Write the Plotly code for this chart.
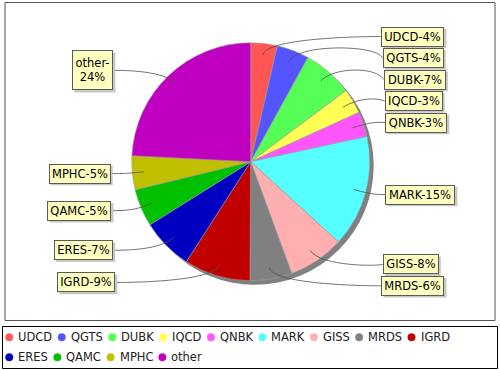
import math
import plotly.graph_objects as go

# ---- data ----
categories = ["UDCD", "QGTS", "DUBK", "IQCD", "QNBK", "MARK", "GISS",
              "MRDS", "IGRD", "ERES", "QAMC", "MPHC", "other"]
values = [3.6, 4.4, 6.8, 3.4, 3.4, 15.2, 7.6, 5.7, 9.0, 7.0, 5.1, 4.6, 24.2]
colors = ["#FF5555", "#5555FF", "#55FF55", "#FFFF55", "#FF55FF", "#55FFFF",
          "#FFAFAF", "#808080", "#C00000", "#0000C0", "#00C000", "#C0C000",
          "#C000C0"]

# ---- layout constants (pixels) ----
W, H = 500, 370
CX, CY, R = 250.7, 161.7, 119.0
SHADOW = 4
RL = 126.0          # link-area radius
LINK = 0.9          # link point depth inside slice
LBL_H, LBL_GAP = 19.5, 2.0
LINE_H = 14.5       # text height of one label line
BPAD, BW = 1.5, 1   # label box padding / border
FONT = "DejaVu Sans"
FS = 11.5


def px(x):
    return x / W


def py(y):
    return 1 - y / H


# DejaVu Sans advance widths (units / 2048) for text layout
ADV = {"A": 1401, "B": 1405, "C": 1430, "D": 1577, "E": 1294, "G": 1589,
       "H": 1540, "I": 604, "K": 1343, "M": 1767, "N": 1532, "P": 1235,
       "Q": 1612, "R": 1423, "S": 1300, "T": 1251, "U": 1499, "o": 1253,
       "t": 803, "h": 1298, "e": 1260, "r": 842, "-": 739, "%": 1946}
for d in "0123456789":
    ADV[d] = 1303


def text_w(s, fs=FS):
    return sum(ADV.get(ch, 1300) for ch in s) / 2048 * fs


total = sum(values)
pcts = [v / total * 100 for v in values]
mids = []
cum = 0.0
for p in pcts:
    mids.append((cum + p / 2) / 100 * 2 * math.pi)
    cum += p

texts = []
for c, p in zip(categories, pcts):
    t = f"{c}-{round(p)}%"
    if len(t) > 8:
        t = t.replace("-", "-<br>", 1)
    texts.append(t)


def distribute(recs):
    recs.sort(key=lambda r: r["y"])
    n = len(recs)

    def overlap():
        for i in range(n - 1):
            a, b = recs[i], recs[i + 1]
            if b["y"] - b["h"] / 2 < a["y"] + a["h"] / 2 + LBL_GAP - 1e-6:
                return True
        return False

    lo, up = 0, n - 1
    while up > lo:
        if lo < up - 1:
            a, b = recs[lo], recs[lo + 1]
            need = a["y"] + a["h"] / 2 + LBL_GAP + b["h"] / 2
            if b["y"] < need:
                b["y"] = need
        a, b = recs[up - 1], recs[up]
        need = b["y"] - b["h"] / 2 - LBL_GAP - a["h"] / 2
        if a["y"] > need:
            a["y"] = need
        lo += 1
        up -= 1
    if overlap():
        for i in range(n - 1):
            a, b = recs[i], recs[i + 1]
            need = a["y"] + a["h"] / 2 + LBL_GAP + b["h"] / 2
            if b["y"] < need:
                b["y"] = need
    return recs


right, left = [], []
for i, th in enumerate(mids):
    nl = texts[i].count("<br>") + 1
    rec = {"i": i, "y": CY - RL * math.cos(th), "h": LBL_H + (nl - 1) * 20,
           "ey": CY - RL * math.cos(th), "nl": nl}
    (right if th < math.pi else left).append(rec)
distribute(right)
distribute(left)

fig = go.Figure()

# shadow pie
fig.add_trace(go.Pie(
    values=[1], labels=["_shadow"], sort=False,
    marker=dict(colors=["#808080"], line=dict(width=0)),
    textinfo="none", hoverinfo="skip", showlegend=False,
    domain=dict(x=[px(CX - R + SHADOW), px(CX + R + SHADOW)],
                y=[py(CY + R + SHADOW), py(CY - R + SHADOW)])))

# main pie
fig.add_trace(go.Pie(
    labels=categories, values=values, sort=False, direction="clockwise",
    rotation=0,
    marker=dict(colors=colors, line=dict(color="#A0A0A0", width=0.6)),
    textinfo="none", hoverinfo="skip", showlegend=False,
    domain=dict(x=[px(CX - R), px(CX + R)], y=[py(CY + R), py(CY - R)])))

shapes = []
annotations = []

# plot border and legend box
shapes.append(dict(type="rect", xref="paper", yref="paper",
                   x0=px(5), x1=px(495), y0=py(320.5), y1=py(2.5),
                   line=dict(color="#555555", width=1)))
shapes.append(dict(type="rect", xref="paper", yref="paper",
                   x0=px(2.5), x1=px(497.5), y0=py(368.5), y1=py(326.5),
                   line=dict(color="#000000", width=1)))

for side, recs in (("right", right), ("left", left)):
    for r in recs:
        i = r["i"]
        th = mids[i]
        ty = r["y"]
        k = ((ty - CY) / 125.0) ** 2
        if side == "right":
            tx = CX + RL + 9 - 4.3 * k
            ax = CX + RL
            xanchor = "left"
        else:
            tx = CX - RL - 14 + 5 * k
            ax = CX - RL
            xanchor = "right"
        ex = CX + RL * math.sin(th)
        ey = r["ey"]
        lx = CX + LINK * R * math.sin(th)
        lyy = CY - LINK * R * math.cos(th)
        path = (f"M {px(lx)},{py(lyy)} C {px(ex)},{py(ey)} "
                f"{px(ax)},{py(ey)} {px(tx)},{py(ty)}")
        shapes.append(dict(type="path", xref="paper", yref="paper",
                           path=path, layer="above",
                           line=dict(color="#505050", width=0.8)))
        # label box size
        tw = math.ceil(max(text_w(s) for s in texts[i].split("<br>"))) + 1
        th_ = LINE_H * r["nl"] + (r["nl"] - 1) * 6
        ow = tw + 2 * (BPAD + BW)
        oh = th_ + 2 * (BPAD + BW)
        bx0 = tx if side == "right" else tx - ow
        # label shadow (rect)
        shapes.append(dict(type="rect", xref="paper", yref="paper",
                           layer="above",
                           x0=px(bx0 + 2), x1=px(bx0 + ow + 2),
                           y0=py(ty + oh / 2 + 2), y1=py(ty - oh / 2 + 2),
                           fillcolor="#C8C8C8", line=dict(width=0)))
        annotations.append(dict(
            xref="paper", yref="paper", showarrow=False,
            x=px(tx), y=py(ty), xanchor=xanchor, yanchor="middle",
            text=texts[i], width=tw, height=th_, valign="middle",
            bgcolor="#FFFFC0", bordercolor="#5A5A5A",
            borderpad=BPAD, borderwidth=BW,
            font=dict(family=FONT, size=FS, color="#000000")))

# legend (manual, compact like the reference)
LEG_R = 3.75
x = 5.5
row_y = [337.3, 357.3]
row = 0
for c, col in zip(categories, colors):
    item_w = 2 * LEG_R + 4.3 + text_w(c)
    if x + item_w > 494:
        row += 1
        x = 5.5
    yc = row_y[row]
    shapes.append(dict(type="circle", xref="paper", yref="paper",
                       x0=px(x), x1=px(x + 2 * LEG_R),
                       y0=py(yc + LEG_R), y1=py(yc - LEG_R),
                       fillcolor=col, line=dict(color=col, width=0.5)))
    annotations.append(dict(
        xref="paper", yref="paper", showarrow=False, x=px(x + 2 * LEG_R + 4.3),
        y=py(yc), xanchor="left", yanchor="middle", text=c, borderpad=0,
        font=dict(family=FONT, size=FS, color="#222222")))
    x += item_w + 6.5

fig.update_layout(
    width=W, height=H, autosize=False,
    margin=dict(l=0, r=0, t=0, b=0),
    paper_bgcolor="#FFFFFF", plot_bgcolor="#FFFFFF",
    showlegend=False, shapes=shapes, annotations=annotations,
    hovermode=False)

fig.write_html(
    "out.html",
    config={"displayModeBar": False},
    post_script="document.body.style.margin='0';"
                "document.body.style.overflow='hidden';")
